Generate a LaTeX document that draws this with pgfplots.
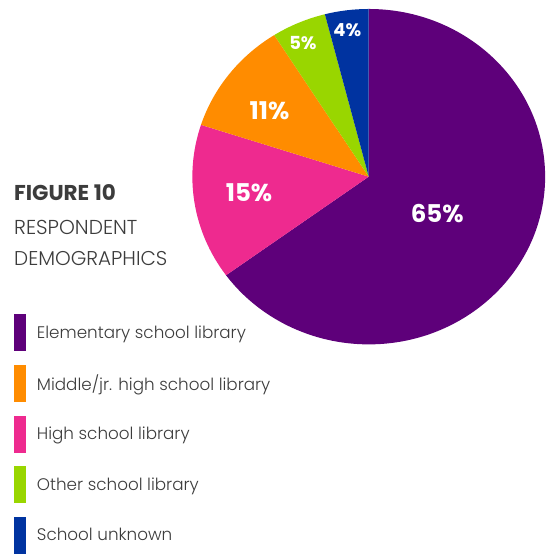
\documentclass[border=0pt]{standalone}
\usepackage{pgfplots}
\pgfplotsset{compat=1.18}
\usepackage{pgfplotstable}
\usepackage{fontspec}
\setmainfont{Poppins}[UprightFont=* Light, BoldFont=* Bold]

\definecolor{c0}{HTML}{5E007A}
\definecolor{c1}{HTML}{EE2A8F}
\definecolor{c2}{HTML}{FF8C00}
\definecolor{c3}{HTML}{99D600}
\definecolor{c4}{HTML}{0033A0}
\definecolor{txt}{HTML}{3C3C3C}

% share (%), label x, label y (pixel coordinates, y down), label size
\pgfplotstableread{
value lx    ly    size
65    438   213.5 big
15    249.5 193   big
11    270   110.5 big
5     303.5 43.5  small
4     348   30    small
}\piedata

\def\cum{90}
\pgfplotsforeachungrouped \i in {0,...,4}{%
  \pgfplotstablegetelem{\i}{value}\of\piedata
  \pgfmathsetmacro\st{\cum}%
  \pgfmathsetmacro\en{\cum-3.6*\pgfplotsretval}%
  \expandafter\xdef\csname pieS\i\endcsname{\st}%
  \expandafter\xdef\csname pieE\i\endcsname{\en}%
  \expandafter\xdef\csname pieV\i\endcsname{\pgfplotsretval}%
  \pgfplotstablegetelem{\i}{lx}\of\piedata
  \expandafter\xdef\csname pieX\i\endcsname{\pgfplotsretval}%
  \pgfplotstablegetelem{\i}{ly}\of\piedata
  \expandafter\xdef\csname pieY\i\endcsname{\pgfplotsretval}%
  \pgfplotstablegetelem{\i}{size}\of\piedata
  \expandafter\xdef\csname pieF\i\endcsname{\pgfplotsretval}%
  \xdef\cum{\en}%
}
\tikzset{
  lblbig/.style={font=\bfseries\fontsize{24.5}{28}\selectfont},
  lblsmall/.style={font=\bfseries\fontsize{18}{21}\selectfont},
}

\begin{document}
\begin{tikzpicture}
\begin{axis}[
  scale only axis, width=553pt, height=554pt,
  xmin=0, xmax=553, ymin=0, ymax=554, y dir=reverse,
  hide axis, clip=false,
  legend style={at={(14/553,1-315/554)}, anchor=north west, draw=none, fill=none,
    inner sep=0pt, outer sep=0pt, row sep=13.75pt,
    font=\fontsize{16.8}{20}\selectfont, text=txt,
    nodes={inner sep=0pt, outer sep=0pt}},
  legend cell align=left,
  legend image code/.code={\path[draw=none,fill=none] (0pt,0pt) -- (23pt,0pt);
    \fill[#1, draw=none] (0pt,-18.5pt) rectangle (12pt,18.5pt);},
]
\path (axis cs:0,0) rectangle (axis cs:553,554);
\pgfplotsinvokeforeach{0,...,4}{%
  \fill[c#1] (axis cs:369.4,177) -- ++(\csname pieS#1\endcsname:176.7pt and 168pt)
    arc[start angle=\csname pieS#1\endcsname, end angle=\csname pieE#1\endcsname,
        x radius=176.7pt, y radius=168pt] -- cycle;
}
\pgfplotsinvokeforeach{0,...,4}{%
  \node[white, lbl\csname pieF#1\endcsname, inner sep=0pt]
    at (axis cs:\csname pieX#1\endcsname,\csname pieY#1\endcsname)
    {\csname pieV#1\endcsname\%};
}
\node[anchor=base west, inner sep=0pt, text=txt, font=\bfseries\fontsize{21.5}{24}\selectfont]
  at (axis cs:14,200.5) {FIGURE 10};
\node[anchor=base west, inner sep=0pt, text=txt, font=\fontsize{20.2}{24}\selectfont]
  at (axis cs:14,234.5) {RESPONDENT};
\node[anchor=base west, inner sep=0pt, text=txt, font=\fontsize{20}{24}\selectfont]
  at (axis cs:14,265.5) {DEMOGRAPHICS};
\addlegendimage{fill=c0}\addlegendentry{Elementary school library}
\addlegendimage{fill=c2}\addlegendentry{Middle/jr. high school library}
\addlegendimage{fill=c1}\addlegendentry{High school library}
\addlegendimage{fill=c3}\addlegendentry{Other school library}
\addlegendimage{fill=c4}\addlegendentry{School unknown}
\end{axis}
\end{tikzpicture}
\end{document}
